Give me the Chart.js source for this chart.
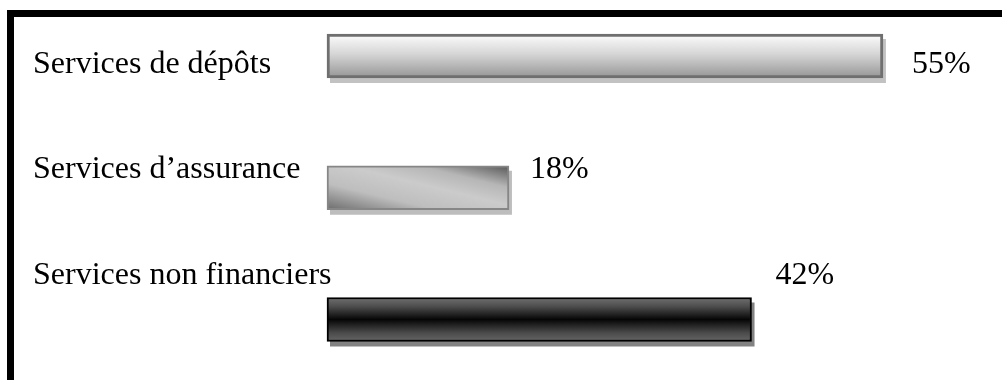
<!DOCTYPE html>
<html><head><meta charset="utf-8">
<script src="https://cdn.jsdelivr.net/npm/chart.js@4/dist/chart.umd.min.js"></script>
<style>html,body{margin:0;padding:0;background:#fff;} #wrap{position:relative;width:1002px;height:380px;}</style>
</head><body><div id="wrap"><canvas id="c" width="1002" height="380"></canvas></div>
<script>
// ---- data ----
const categories = ['Services de dépôts', 'Services d’assurance', 'Services non financiers'];
const values = [55, 18, 42];
const valueLabels = ['55%', '18%', '42%'];
const xMax = 65;

// ---- styles (kept apart from data) ----
const BAR_H = 44;
const fillStyles = [
  {dir: 'v', stops: [[0, '#fdfdfd'], [0.45, '#d6d6d6'], [1, '#959595']]},
  {dir: 'd', stops: [[0, '#6c6c6c'], [0.3, '#bebebe'], [0.55, '#cbcbcb'], [0.75, '#b6b6b6'], [1, '#565656']]},
  {dir: 'v', stops: [[0, '#707070'], [0.2, '#4e4e4e'], [0.5, '#060606'], [0.8, '#4a4a4a'], [1, '#666666']]}
];
const borderColors = ['#6f6f6f', '#868686', '#000000'];
const borderWidths = [3, 2, 2];
const shadowColors = ['#c2c2c2', '#bdbdbd', '#828282'];
const shadowOffset = {x: 3, y: 5};
const labelLayout = {catX: 33, dy: [17, -9.75, -35.5], valDx: [29, 21, 24]};
const FONT = '32px "Liberation Serif", "Times New Roman", serif';

function barFill(ctx) {
  const chart = ctx.chart, i = ctx.dataIndex;
  const xs = chart.scales.x, ys = chart.scales.y;
  if (!chart.chartArea || !xs || !ys || i === undefined) return '#cccccc';
  const x0 = xs.getPixelForValue(0), x1 = xs.getPixelForValue(values[i]);
  const yc = ys.getPixelForValue(i), h = BAR_H;
  const y0 = yc - h / 2, y1 = yc + h / 2;
  const st = fillStyles[i];
  let g;
  if (st.dir === 'v') {
    g = chart.ctx.createLinearGradient(0, y0, 0, y1);
  } else {
    const w = x1 - x0, L = Math.hypot(w, h), cx = (x0 + x1) / 2, cy = yc;
    const nx = h / L, ny = -w / L, r = w * h / L;
    g = chart.ctx.createLinearGradient(cx - nx * r, cy - ny * r, cx + nx * r, cy + ny * r);
  }
  st.stops.forEach(s => g.addColorStop(s[0], s[1]));
  return g;
}

const framePlugin = {
  id: 'frame',
  beforeDraw(chart) {
    const c = chart.ctx;
    c.save();
    c.fillStyle = '#000';
    c.fillRect(7, 10, 995, 7);
    c.fillRect(7, 10, 7, 370);
    c.restore();
  }
};

const shadowPlugin = {
  id: 'shadows',
  beforeDatasetDraw(chart, args) {
    const c = chart.ctx;
    c.save();
    args.meta.data.forEach((el, i) => {
      const p = el.getProps(['x', 'y', 'base', 'height'], true);
      const left = Math.min(p.x, p.base), w = Math.abs(p.x - p.base);
      c.fillStyle = shadowColors[i];
      c.fillRect(left + shadowOffset.x, p.y - p.height / 2 + shadowOffset.y, w, p.height);
    });
    c.restore();
  }
};

const labelPlugin = {
  id: 'labels',
  afterDatasetsDraw(chart) {
    const c = chart.ctx;
    const meta = chart.getDatasetMeta(0);
    c.save();
    c.font = FONT;
    c.fillStyle = '#000';
    c.textBaseline = 'alphabetic';
    c.textAlign = 'left';
    meta.data.forEach((el, i) => {
      const p = el.getProps(['x', 'y'], true);
      c.fillText(chart.data.labels[i], labelLayout.catX, p.y + labelLayout.dy[i]);
      c.fillText(valueLabels[i], p.x + labelLayout.valDx[i], p.y + labelLayout.dy[i]);
    });
    c.restore();
  }
};

new Chart(document.getElementById('c'), {
  type: 'bar',
  data: {
    labels: categories,
    datasets: [{
      data: values,
      backgroundColor: barFill,
      borderColor: borderColors,
      borderWidth: borderWidths,
      borderSkipped: false,
      barThickness: BAR_H,
      clip: false
    }]
  },
  options: {
    indexAxis: 'y',
    responsive: false,
    animation: false,
    events: [],
    layout: {padding: {left: 327, right: 18, top: 56, bottom: 60.5}},
    scales: {
      x: {type: 'linear', min: 0, max: xMax, display: false},
      y: {type: 'category', offset: false, display: false}
    },
    plugins: {legend: {display: false}, tooltip: {enabled: false}}
  },
  plugins: [framePlugin, shadowPlugin, labelPlugin]
});
</script>
</body></html>
